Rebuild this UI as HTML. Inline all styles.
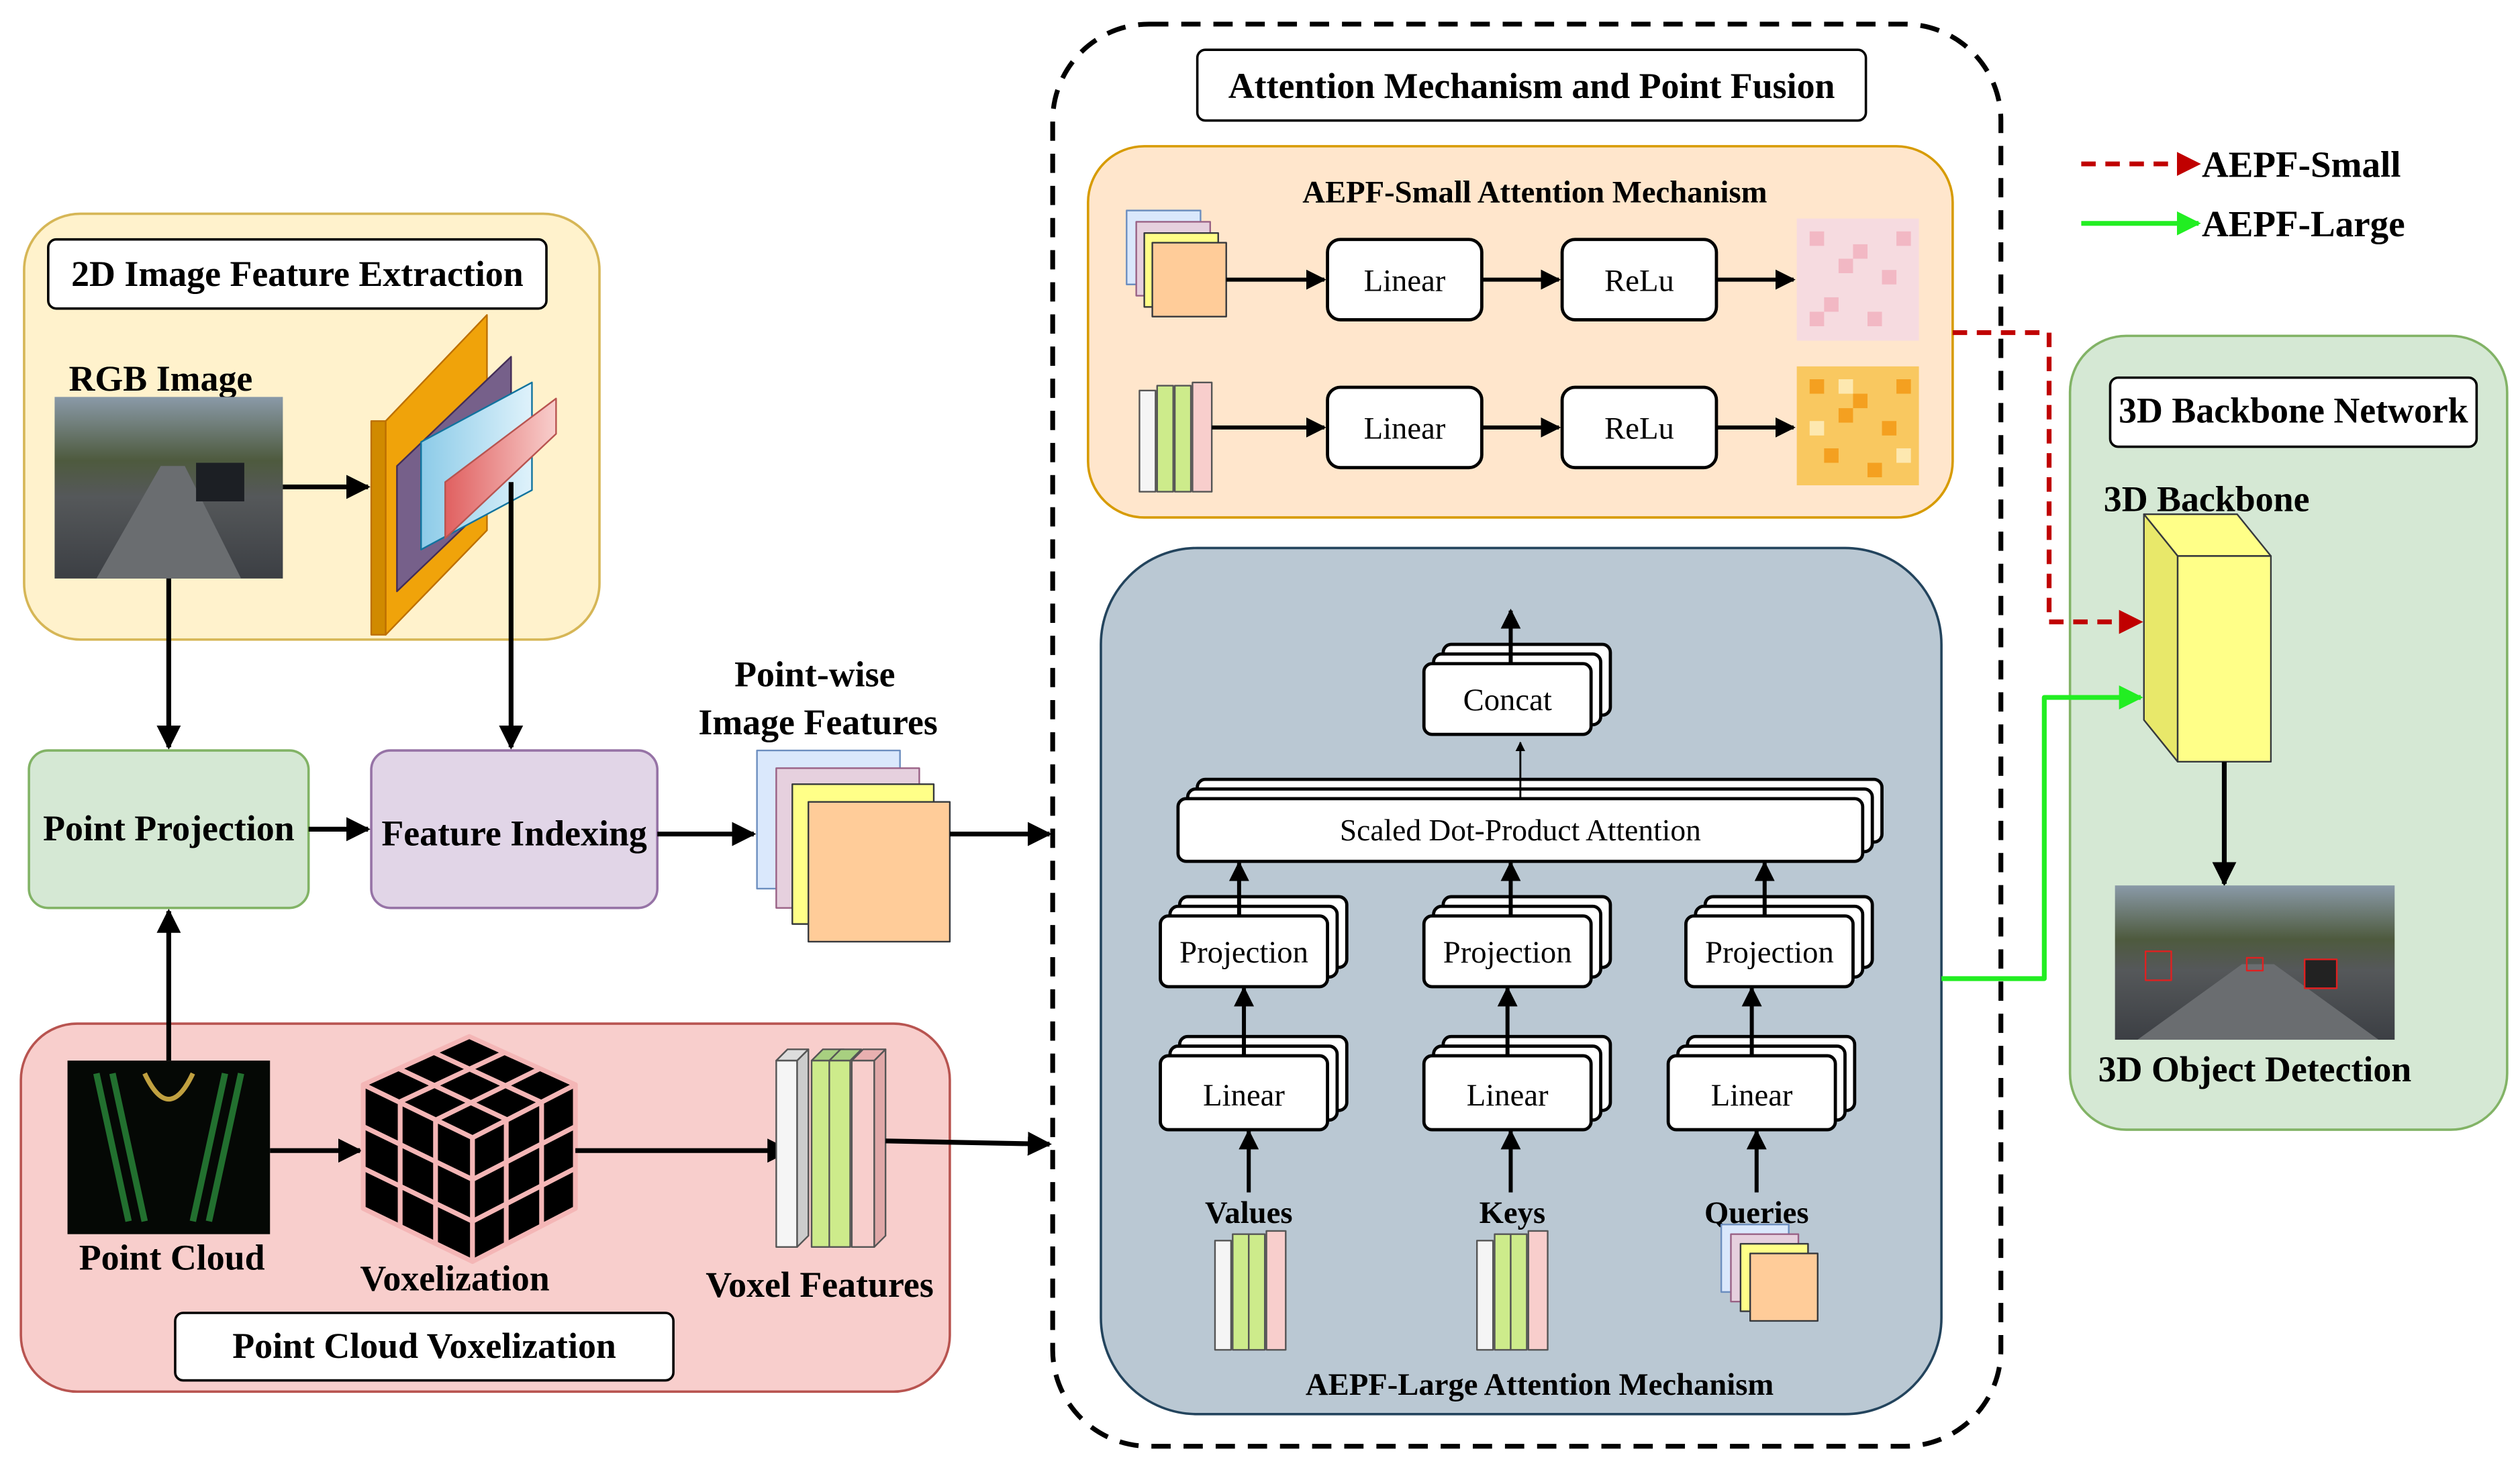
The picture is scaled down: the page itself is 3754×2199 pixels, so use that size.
<!DOCTYPE html>
<html><head><meta charset="utf-8"><style>
html,body{margin:0;padding:0;background:#fff}
svg{display:block}
text{font-family:"Liberation Serif",serif}
.b{font-weight:bold}
</style></head><body>
<svg width="3754" height="2199" viewBox="0 0 1568 918.5" preserveAspectRatio="none" xmlns="http://www.w3.org/2000/svg">
<defs>
<marker id="ah" viewBox="0 0 10 10" refX="9" refY="5" markerWidth="5" markerHeight="5" orient="auto"><path d="M0,0 L10,5 L0,10 z" fill="#000"/></marker>
<marker id="ahr" viewBox="0 0 10 10" refX="9" refY="5" markerWidth="5" markerHeight="5" orient="auto"><path d="M0,0 L10,5 L0,10 z" fill="#c00000"/></marker>
<marker id="ahg" viewBox="0 0 10 10" refX="9" refY="5" markerWidth="5" markerHeight="5" orient="auto"><path d="M0,0 L10,5 L0,10 z" fill="#22ee22"/></marker>
<linearGradient id="road" x1="0" y1="0" x2="0" y2="1"><stop offset="0" stop-color="#8a9aa8"/><stop offset="0.35" stop-color="#4e5a3e"/><stop offset="0.55" stop-color="#55585a"/><stop offset="1" stop-color="#3c3f44"/></linearGradient>
<linearGradient id="redg" x1="0" y1="0" x2="1" y2="0"><stop offset="0" stop-color="#e06060"/><stop offset="1" stop-color="#f8cecc"/></linearGradient>
<linearGradient id="blg" x1="0" y1="0" x2="1" y2="0"><stop offset="0" stop-color="#8ccbe8"/><stop offset="1" stop-color="#dff2fb"/></linearGradient>
</defs>
<g stroke-linejoin="round">
<rect x="15" y="133" width="358" height="265" rx="35" fill="#fff2cc" stroke="#d6b656" stroke-width="1.5"/>
<rect x="30" y="149" width="310" height="43" rx="5" fill="#fff" stroke="#000" stroke-width="1.5"/>
<text x="185" y="178" font-size="22.5" text-anchor="middle" class="b">2D Image Feature Extraction</text>
<text x="100" y="243" font-size="22.5" text-anchor="middle" class="b">RGB Image</text>
<rect x="34" y="247" width="142" height="113" fill="url(#road)"/>
<polygon points="60,360 100,290 115,290 150,360" fill="#6a6d70"/>
<rect x="122" y="288" width="30" height="24" fill="#1c1f24"/>
<polygon points="231,262 240,262 240,395 231,395" fill="#d08a00" stroke="#bd7000"/>
<polygon points="240,262 303,196 303,330 240,395" fill="#f0a30a" stroke="#bd7000"/>
<polygon points="247,290 318,222 318,300 247,368" fill="#76608a" stroke="#432d57"/>
<polygon points="262,275 331,238 331,305 262,342" fill="url(#blg)" stroke="#10739e"/>
<polygon points="277,300 346,248 346,270 277,335" fill="url(#redg)" stroke="#b85450"/>
<line x1="176" y1="303" x2="229" y2="303" stroke="#000" stroke-width="3" marker-end="url(#ah)"/>
<line x1="105" y1="360" x2="105" y2="465" stroke="#000" stroke-width="3" marker-end="url(#ah)"/>
<line x1="318" y1="300" x2="318" y2="465" stroke="#000" stroke-width="3" marker-end="url(#ah)"/>
<rect x="18" y="467" width="174" height="98" rx="12" fill="#d5e8d4" stroke="#82b366" stroke-width="1.5"/>
<text x="105" y="523" font-size="22.5" text-anchor="middle" class="b">Point Projection</text>
<rect x="231" y="467" width="178" height="98" rx="12" fill="#e1d5e7" stroke="#9673a6" stroke-width="1.5"/>
<text x="320" y="526" font-size="22.5" text-anchor="middle" class="b">Feature Indexing</text>
<line x1="192" y1="516" x2="229" y2="516" stroke="#000" stroke-width="3" marker-end="url(#ah)"/>
<line x1="409" y1="519" x2="469" y2="519" stroke="#000" stroke-width="3" marker-end="url(#ah)"/>
<text x="507" y="427" font-size="22.5" text-anchor="middle" class="b">Point-wise</text>
<text x="509" y="457" font-size="22.5" text-anchor="middle" class="b">Image Features</text>
<rect x="471" y="467" width="89" height="86" fill="#dae8fc" stroke="#6c8ebf"/>
<rect x="483" y="478" width="89" height="87" fill="#e6d0de" stroke="#996185"/>
<rect x="493" y="488" width="88" height="87" fill="#ffff88" stroke="#36393d"/>
<rect x="503" y="499" width="88" height="87" fill="#ffcc99" stroke="#36393d"/>
<line x1="591" y1="519" x2="653" y2="519" stroke="#000" stroke-width="3" marker-end="url(#ah)"/>
<rect x="13" y="637" width="578" height="229" rx="35" fill="#f8cecc" stroke="#b85450" stroke-width="1.5"/>
<rect x="42" y="660" width="126" height="108" fill="#050805"/>
<path d="M60,668 L80,760 M70,668 L90,760 M150,668 L130,760 M140,668 L120,760" stroke="#2a8a3a" stroke-width="4" opacity="0.8"/>
<path d="M90,668 Q105,700 120,668" stroke="#c0a040" stroke-width="3" fill="none"/>
<line x1="105" y1="660" x2="105" y2="567" stroke="#000" stroke-width="3" marker-end="url(#ah)"/>
<line x1="168" y1="716" x2="224" y2="716" stroke="#000" stroke-width="3" marker-end="url(#ah)"/>
<g stroke="#f4b6b6" stroke-width="3" fill="#000">
<polygon points="226,675 292,645 358,675 294,708"/>
<polygon points="226,675 294,708 294,785 226,752"/>
<polygon points="294,708 358,675 358,752 294,785"/>
<line x1="248" y1="665" x2="316" y2="697"/><line x1="270" y1="655" x2="337" y2="686"/>
<line x1="248" y1="686" x2="314" y2="655"/><line x1="271" y1="697" x2="336" y2="665"/>
<line x1="249" y1="686" x2="249" y2="763"/><line x1="271" y1="697" x2="271" y2="774"/>
<line x1="226" y1="701" x2="294" y2="734"/><line x1="226" y1="727" x2="294" y2="760"/>
<line x1="315" y1="697" x2="315" y2="774"/><line x1="337" y1="686" x2="337" y2="763"/>
<line x1="294" y1="734" x2="358" y2="701"/><line x1="294" y1="760" x2="358" y2="727"/>
</g>
<text x="283" y="803" font-size="22.5" text-anchor="middle" class="b">Voxelization</text>
<text x="107" y="790" font-size="22.5" text-anchor="middle" class="b">Point Cloud</text>
<line x1="358" y1="716" x2="491" y2="716" stroke="#000" stroke-width="3" marker-end="url(#ah)"/>
<g stroke="#555">
<polygon points="483,660 490,653 503,653 496,660" fill="#ddd"/><rect x="483" y="660" width="13" height="116" fill="#f5f5f5"/><polygon points="496,660 503,653 503,769 496,776" fill="#ccc"/>
<polygon points="505,660 512,653 525,653 518,660" fill="#a8d080"/><rect x="505" y="660" width="13" height="116" fill="#cdeb8b"/><polygon points="518,660 525,653 525,769 518,776" fill="#9cc070"/>
<polygon points="516,660 523,653 536,653 529,660" fill="#a8d080"/><rect x="516" y="660" width="13" height="116" fill="#cdeb8b"/>
<polygon points="530,660 537,653 551,653 544,660" fill="#e8b0b0"/><rect x="530" y="660" width="14" height="116" fill="#f8cecc"/><polygon points="544,660 551,653 551,769 544,776" fill="#e0a8a8"/>
</g>
<text x="510" y="807" font-size="22.5" text-anchor="middle" class="b">Voxel Features</text>
<rect x="109" y="817" width="310" height="42" rx="5" fill="#fff" stroke="#000" stroke-width="1.5"/>
<text x="264" y="845" font-size="22.5" text-anchor="middle" class="b">Point Cloud Voxelization</text>
<line x1="551" y1="710" x2="653" y2="712" stroke="#000" stroke-width="3" marker-end="url(#ah)"/>
<rect x="655" y="15" width="590" height="885" rx="60" fill="none" stroke="#000" stroke-width="3" stroke-dasharray="12,8"/>
<rect x="745" y="31" width="416" height="44" rx="5" fill="#fff" stroke="#000" stroke-width="1.5"/>
<text x="953" y="61" font-size="22.5" text-anchor="middle" class="b">Attention Mechanism and Point Fusion</text>
<rect x="677" y="91" width="538" height="231" rx="35" fill="#ffe6cc" stroke="#d79b00" stroke-width="1.5"/>
<text x="955" y="126" font-size="19.5" text-anchor="middle" class="b">AEPF-Small Attention Mechanism</text>
<rect x="701" y="131" width="46" height="46" fill="#dae8fc" stroke="#6c8ebf"/>
<rect x="707" y="138" width="46" height="46" fill="#e6d0de" stroke="#996185"/>
<rect x="712" y="145" width="46" height="46" fill="#ffff88" stroke="#36393d"/>
<rect x="717" y="151" width="46" height="46" fill="#ffcc99" stroke="#36393d"/>
<g stroke="#555">
<rect x="709" y="243" width="10" height="63" fill="#f5f5f5"/><rect x="720" y="240" width="10" height="66" fill="#cdeb8b"/><rect x="731" y="240" width="10" height="66" fill="#cdeb8b"/><rect x="742" y="238" width="12" height="68" fill="#f8cecc"/>
</g>
<line x1="763" y1="174" x2="824" y2="174" stroke="#000" stroke-width="2.5" marker-end="url(#ah)"/>
<line x1="922" y1="174" x2="970" y2="174" stroke="#000" stroke-width="2.5" marker-end="url(#ah)"/>
<line x1="1068" y1="174" x2="1116" y2="174" stroke="#000" stroke-width="2.5" marker-end="url(#ah)"/>
<line x1="754" y1="266" x2="824" y2="266" stroke="#000" stroke-width="2.5" marker-end="url(#ah)"/>
<line x1="922" y1="266" x2="970" y2="266" stroke="#000" stroke-width="2.5" marker-end="url(#ah)"/>
<line x1="1068" y1="266" x2="1116" y2="266" stroke="#000" stroke-width="2.5" marker-end="url(#ah)"/>
<g fill="#fff" stroke="#000" stroke-width="2">
<rect x="826" y="149" width="96" height="50" rx="8"/><rect x="972" y="149" width="96" height="50" rx="8"/>
<rect x="826" y="241" width="96" height="50" rx="8"/><rect x="972" y="241" width="96" height="50" rx="8"/>
</g>
<g font-size="19.5" text-anchor="middle">
<text x="874" y="181">Linear</text><text x="1020" y="181">ReLu</text>
<text x="874" y="273">Linear</text><text x="1020" y="273">ReLu</text>
</g>
<rect x="1118" y="136" width="76" height="76" fill="#f6dbe0"/>
<g fill="#f2b8c4"><rect x="1126" y="144" width="9" height="9"/><rect x="1153" y="152" width="9" height="9"/><rect x="1171" y="168" width="9" height="9"/><rect x="1135" y="185" width="9" height="9"/><rect x="1162" y="194" width="9" height="9"/><rect x="1144" y="161" width="9" height="9"/><rect x="1180" y="144" width="9" height="9"/><rect x="1126" y="194" width="9" height="9"/></g>
<rect x="1118" y="228" width="76" height="74" fill="#f9c860"/>
<g fill="#f4a020"><rect x="1126" y="236" width="9" height="9"/><rect x="1153" y="245" width="9" height="9"/><rect x="1171" y="262" width="9" height="9"/><rect x="1135" y="279" width="9" height="9"/><rect x="1162" y="288" width="9" height="9"/><rect x="1144" y="254" width="9" height="9"/><rect x="1180" y="236" width="9" height="9"/></g>
<g fill="#fde8b0"><rect x="1144" y="236" width="9" height="9"/><rect x="1126" y="262" width="9" height="9"/><rect x="1180" y="279" width="9" height="9"/></g>
<rect x="685" y="341" width="523" height="539" rx="60" fill="#bac8d3" stroke="#23445d" stroke-width="1.5"/>
<g fill="#fff" stroke="#000" stroke-width="2">
<rect x="898" y="401" width="104" height="44" rx="5"/><rect x="892" y="407" width="104" height="44" rx="5"/><rect x="886" y="413" width="104" height="44" rx="5"/>
<rect x="745" y="485" width="426" height="39" rx="5"/><rect x="739" y="491" width="426" height="39" rx="5"/><rect x="733" y="497" width="426" height="39" rx="5"/>
<rect x="734" y="558" width="104" height="44" rx="5"/><rect x="728" y="564" width="104" height="44" rx="5"/><rect x="722" y="570" width="104" height="44" rx="5"/>
<rect x="898" y="558" width="104" height="44" rx="5"/><rect x="892" y="564" width="104" height="44" rx="5"/><rect x="886" y="570" width="104" height="44" rx="5"/>
<rect x="1061" y="558" width="104" height="44" rx="5"/><rect x="1055" y="564" width="104" height="44" rx="5"/><rect x="1049" y="570" width="104" height="44" rx="5"/>
<rect x="734" y="645" width="104" height="46" rx="5"/><rect x="728" y="651" width="104" height="46" rx="5"/><rect x="722" y="657" width="104" height="46" rx="5"/>
<rect x="898" y="645" width="104" height="46" rx="5"/><rect x="892" y="651" width="104" height="46" rx="5"/><rect x="886" y="657" width="104" height="46" rx="5"/>
<rect x="1050" y="645" width="104" height="46" rx="5"/><rect x="1044" y="651" width="104" height="46" rx="5"/><rect x="1038" y="657" width="104" height="46" rx="5"/>
</g>
<g font-size="19.5" text-anchor="middle">
<text x="938" y="442">Concat</text>
<text x="946" y="523" font-size="19">Scaled Dot-Product Attention</text>
<text x="774" y="599">Projection</text><text x="938" y="599">Projection</text><text x="1101" y="599">Projection</text>
<text x="774" y="688">Linear</text><text x="938" y="688">Linear</text><text x="1090" y="688">Linear</text>
</g>
<g stroke="#000" stroke-width="2.5">
<line x1="940" y1="413" x2="940" y2="380" marker-end="url(#ah)"/>
<line x1="946" y1="497" x2="946" y2="462" stroke-width="1.2" marker-end="url(#ah)"/>
<line x1="771" y1="570" x2="771" y2="537" marker-end="url(#ah)"/>
<line x1="940" y1="570" x2="940" y2="537" marker-end="url(#ah)"/>
<line x1="1098" y1="570" x2="1098" y2="537" marker-end="url(#ah)"/>
<line x1="774" y1="657" x2="774" y2="615" marker-end="url(#ah)"/>
<line x1="938" y1="657" x2="938" y2="615" marker-end="url(#ah)"/>
<line x1="1090" y1="657" x2="1090" y2="615" marker-end="url(#ah)"/>
<line x1="777" y1="742" x2="777" y2="704" marker-end="url(#ah)"/>
<line x1="940" y1="742" x2="940" y2="704" marker-end="url(#ah)"/>
<line x1="1093" y1="742" x2="1093" y2="704" marker-end="url(#ah)"/>
</g>
<g font-size="19.5" text-anchor="middle" class="b">
<text x="777" y="761">Values</text><text x="941" y="761">Keys</text><text x="1093" y="761">Queries</text>
</g>
<g stroke="#555">
<rect x="756" y="772" width="10" height="68" fill="#f5f5f5"/><rect x="767" y="768" width="10" height="72" fill="#cdeb8b"/><rect x="777" y="768" width="10" height="72" fill="#cdeb8b"/><rect x="788" y="766" width="12" height="74" fill="#f8cecc"/>
<rect x="919" y="772" width="10" height="68" fill="#f5f5f5"/><rect x="930" y="768" width="10" height="72" fill="#cdeb8b"/><rect x="940" y="768" width="10" height="72" fill="#cdeb8b"/><rect x="951" y="766" width="12" height="74" fill="#f8cecc"/>
</g>
<rect x="1071" y="762" width="42" height="42" fill="#dae8fc" stroke="#6c8ebf"/>
<rect x="1077" y="768" width="42" height="42" fill="#e6d0de" stroke="#996185"/>
<rect x="1083" y="774" width="42" height="42" fill="#ffff88" stroke="#36393d"/>
<rect x="1089" y="780" width="42" height="42" fill="#ffcc99" stroke="#36393d"/>
<text x="958" y="868" font-size="19.5" text-anchor="middle" class="b">AEPF-Large Attention Mechanism</text>
<!-- green region (drawn before connectors) -->
<rect x="1288" y="209" width="272" height="494" rx="35" fill="#d5e8d4" stroke="#82b366" stroke-width="1.5"/>
<rect x="1313" y="235" width="228" height="43" rx="5" fill="#fff" stroke="#000" stroke-width="1.5"/>
<text x="1427" y="263" font-size="22.5" text-anchor="middle" class="b">3D Backbone Network</text>
<text x="1373" y="318" font-size="22.5" text-anchor="middle" class="b">3D Backbone</text>
<polygon points="1334,320 1392,320 1413,346 1355,346" fill="#ffff88" stroke="#36393d"/>
<polygon points="1334,320 1355,346 1355,474 1334,448" fill="#e8e86a" stroke="#36393d"/>
<rect x="1355" y="346" width="58" height="128" fill="#ffff88" stroke="#36393d"/>
<line x1="1384" y1="474" x2="1384" y2="550" stroke="#000" stroke-width="3" marker-end="url(#ah)"/>
<rect x="1316" y="551" width="174" height="96" fill="url(#road)"/>
<polygon points="1330,647 1395,600 1415,600 1480,647" fill="#6a6d70"/>
<rect x="1335" y="592" width="16" height="18" fill="none" stroke="#e02020"/>
<rect x="1398" y="596" width="10" height="8" fill="none" stroke="#e02020"/>
<rect x="1434" y="597" width="20" height="18" fill="#222" stroke="#e02020"/>
<text x="1403" y="673" font-size="22.5" text-anchor="middle" class="b">3D Object Detection</text>
<polyline points="1215,207 1275,207 1275,387 1332,387" fill="none" stroke="#c00000" stroke-width="3" stroke-dasharray="9,6" marker-end="url(#ahr)"/>
<polyline points="1208,609 1272,609 1272,434 1332,434" fill="none" stroke="#22ee22" stroke-width="3" marker-end="url(#ahg)"/>
<line x1="1295" y1="102" x2="1368" y2="102" stroke="#c00000" stroke-width="3" stroke-dasharray="9,6" marker-end="url(#ahr)"/>
<text x="1370" y="110" font-size="23" class="b">AEPF-Small</text>
<line x1="1295" y1="139" x2="1368" y2="139" stroke="#22ee22" stroke-width="3" marker-end="url(#ahg)"/>
<text x="1370" y="147" font-size="23" class="b">AEPF-Large</text>
</g>
</svg>
</body></html>
